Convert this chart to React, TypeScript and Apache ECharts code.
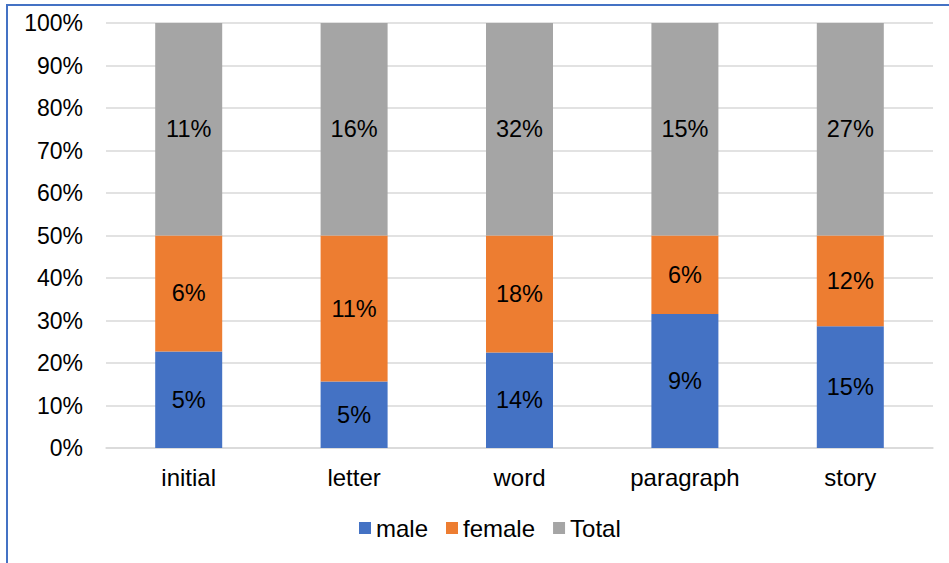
import React, { useEffect, useRef } from "react";
import * as echarts from "echarts";

const categories = ["initial", "letter", "word", "paragraph", "story"];
const maleValues = [5, 5, 14.4, 9.4, 15.4];
const femaleValues = [6, 11, 17.6, 5.5, 11.5];
const totalValues = [11, 16, 32, 14.9, 26.9];
const seriesNames = ["male", "female", "Total"];
const seriesColors = ["#4472C4", "#ED7D31", "#A5A5A5"];

const FONT = "'Liberation Sans', Arial, sans-serif";

export default function App() {
  const ref = useRef<HTMLDivElement>(null);
  useEffect(() => {
    if (!ref.current) return;
    const chart = echarts.init(ref.current, null, { renderer: "svg" });
    const raw = [maleValues, femaleValues, totalValues];
    const sums = categories.map((_, i) => raw.reduce((s, arr) => s + arr[i], 0));
    const series = raw.map((arr, si) => ({
      name: seriesNames[si],
      type: "bar" as const,
      stack: "all",
      barWidth: 67,
      itemStyle: { color: seriesColors[si] },
      label: {
        show: true,
        position: "inside" as const,
        color: "#000",
        fontSize: 23.5,
        fontFamily: FONT,
        formatter: (p: any) => Math.round(arr[p.dataIndex]) + "%",
      },
      data: arr.map((v, i) => v / sums[i]),
    }));
    chart.setOption({
      animation: false,
      backgroundColor: "#fff",
      textStyle: { fontFamily: FONT },
      grid: { left: 106, right: 16, top: 23, bottom: 115, containLabel: false },
      legend: {
        left: 354,
        top: 511,
        itemWidth: 12,
        itemHeight: 12,
        itemGap: 18,
        icon: "rect",
        textStyle: { fontSize: 24, color: "#000", fontFamily: FONT, padding: [0, 0, 0, 0] },
        data: seriesNames,
      },
      xAxis: {
        type: "category",
        data: categories,
        axisLine: { show: true, lineStyle: { color: "#D9D9D9", width: 1.5 } },
        axisTick: { show: false },
        axisLabel: { color: "#000", fontSize: 24, fontFamily: FONT, margin: 17 },
      },
      yAxis: {
        type: "value",
        min: 0,
        max: 1,
        interval: 0.1,
        axisLine: { show: false },
        axisTick: { show: false },
        splitLine: { lineStyle: { color: "#D9D9D9", width: 1.5 } },
        axisLabel: {
          color: "#000",
          fontSize: 23,
          fontFamily: FONT,
          margin: 23,
          formatter: (v: number) => Math.round(v * 100) + "%",
        },
      },
      graphic: [
        {
          type: "rect",
          shape: { x: 7, y: 5, width: 1000, height: 700 },
          style: { fill: "none", stroke: "#4472C4", lineWidth: 2 },
          silent: true,
        },
      ],
      series,
    });
    return () => chart.dispose();
  }, []);
  return (
    <div
      ref={ref}
      style={{ position: "absolute", left: 0, top: 0, width: 949, height: 563 }}
    />
  );
}
